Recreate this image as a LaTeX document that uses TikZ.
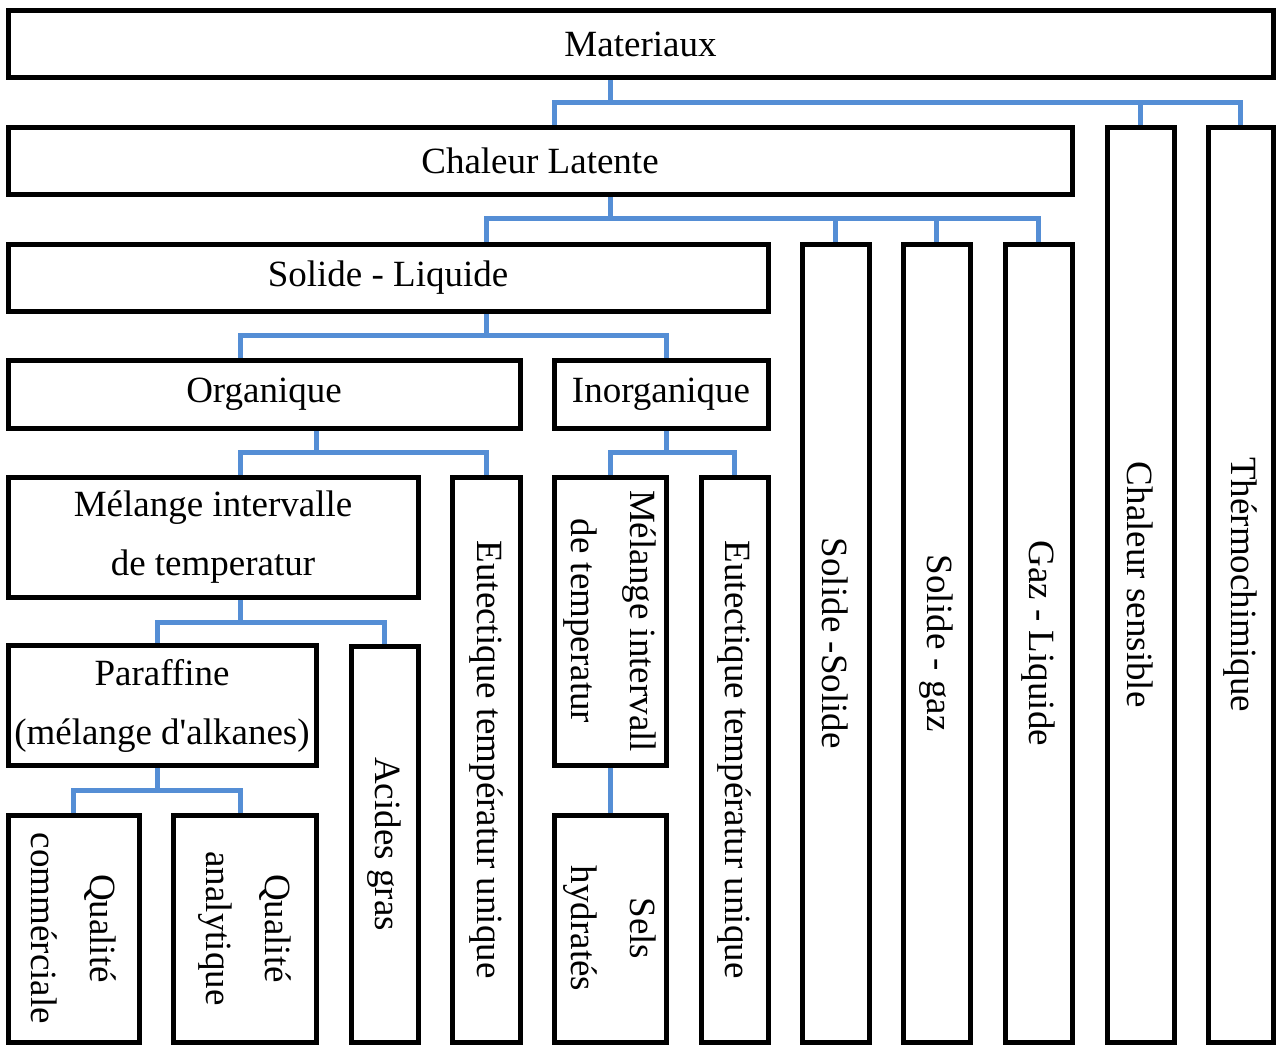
\documentclass[tikz,border=0pt]{standalone}
\usepackage{fontspec}
\setmainfont{Liberation Serif}
\usetikzlibrary{backgrounds}
\definecolor{linkblue}{RGB}{85,142,213}
\begin{document}
\begin{tikzpicture}[x=1pt,y=-1pt,
  box/.style={draw=black, line width=5pt, inner sep=0pt, outer sep=0pt, fill=white,
              font=\fontsize{37}{59}\selectfont, align=center},
  vtext/.style={rotate=-90, align=center, font=\fontsize{37}{59}\selectfont, inner sep=0pt},
  conn/.style={draw=linkblue, line width=5pt}]
\useasboundingbox (0,0) rectangle (1277,1045);

% level 0
\node[box, minimum width=1265pt, minimum height=67pt] (mat) at (640.5,44) {Materiaux};
% level 1
\node[box, minimum width=1064pt, minimum height=67pt] (chl) at (540,161) {Chaleur Latente};
\node[box, minimum width=67pt, minimum height=914.5pt, label={[vtext]center:Chaleur sensible}] (sens) at (1140.5,584.75) {};
\node[box, minimum width=65pt, minimum height=914.5pt, label={[vtext]center:Thérmochimique}] (thermo) at (1240.5,584.75) {};
% level 2
\node[box, minimum width=760pt, minimum height=66.5pt] (sl) at (388,277.75) {Solide - Liquide};
\node[box, minimum width=67pt, minimum height=797.5pt, label={[vtext]center:Solide -Solide}] (ss) at (835.5,643.25) {};
\node[box, minimum width=67pt, minimum height=797.5pt, label={[vtext]center:Solide - gaz}] (sg) at (936.5,643.25) {};
\node[box, minimum width=67pt, minimum height=797.5pt, label={[vtext]center:Gaz - Liquide}] (gl) at (1038.5,643.25) {};
% level 3
\node[box, minimum width=512pt, minimum height=68pt] (org) at (264,394) {Organique};
\node[box, minimum width=214pt, minimum height=68pt] (inorg) at (661,394) {Inorganique};
% level 4
\node[box, minimum width=410pt, minimum height=120pt] (mel1) at (213,537) {Mélange intervalle\\de temperatur};
\node[box, minimum width=68pt, minimum height=565pt, label={[vtext]center:Eutectique températur unique}] (eut1) at (486,759.5) {};
\node[box, minimum width=112pt, minimum height=288pt, label={[vtext]center:{Mélange intervall\\de temperatur}}] (mel2) at (610,621) {};
\node[box, minimum width=67pt, minimum height=565pt, label={[vtext]center:Eutectique températur unique}] (eut2) at (734.5,759.5) {};
% level 5
\node[box, minimum width=308pt, minimum height=120pt] (par) at (162,705.5) {Paraffine\\(mélange d\textquotesingle alkanes)};
\node[box, minimum width=67pt, minimum height=396pt, label={[vtext]center:Acides gras}] (acid) at (384.5,844) {};
\node[box, minimum width=112pt, minimum height=227pt, label={[vtext]center:{Sels\\hydratés}}] (sels) at (610,928.5) {};
% level 6
\node[box, minimum width=131pt, minimum height=227pt, label={[vtext]center:{Qualité\\commérciale}}] (qc) at (73.5,928.5) {};
\node[box, minimum width=143pt, minimum height=227pt, label={[vtext]center:{Qualité\\analytique}}] (qa) at (244.5,928.5) {};

\begin{scope}[on background layer]
  \draw[conn] ([xshift=-30.5pt]mat.south) -- ++(0,25) -| ([xshift=14pt]chl.north);
  \draw[conn] ([xshift=-30.5pt]mat.south) -- ++(0,25) -| (sens.north);
  \draw[conn] ([xshift=-30.5pt]mat.south) -- ++(0,25) -| (thermo.north);

  \draw[conn] ([xshift=70pt]chl.south) -- ++(0,23.5) -| ([xshift=98pt]sl.north);
  \draw[conn] ([xshift=70pt]chl.south) -- ++(0,23.5) -| (ss.north);
  \draw[conn] ([xshift=70pt]chl.south) -- ++(0,23.5) -| (sg.north);
  \draw[conn] ([xshift=70pt]chl.south) -- ++(0,23.5) -| (gl.north);

  \draw[conn] ([xshift=98pt]sl.south) -- ++(0,24) -| ([xshift=-24pt]org.north);
  \draw[conn] ([xshift=98pt]sl.south) -- ++(0,24) -| ([xshift=5pt]inorg.north);

  \draw[conn] ([xshift=52pt]org.south) -- ++(0,24) -| ([xshift=27pt]mel1.north);
  \draw[conn] ([xshift=52pt]org.south) -- ++(0,24) -| (eut1.north);

  \draw[conn] ([xshift=5pt]inorg.south) -- ++(0,24) -| (mel2.north);
  \draw[conn] ([xshift=5pt]inorg.south) -- ++(0,24) -| (eut2.north);

  \draw[conn] ([xshift=27pt]mel1.south) -- ++(0,25) -| ([xshift=-5pt]par.north);
  \draw[conn] ([xshift=27pt]mel1.south) -- ++(0,25) -| (acid.north);

  \draw[conn] ([xshift=-5pt]par.south) -- ++(0,24.5) -| (qc.north);
  \draw[conn] ([xshift=-5pt]par.south) -- ++(0,24.5) -| ([xshift=-4.5pt]qa.north);

  \draw[conn] (mel2.south) -- (sels.north);
\end{scope}
\end{tikzpicture}
\end{document}
